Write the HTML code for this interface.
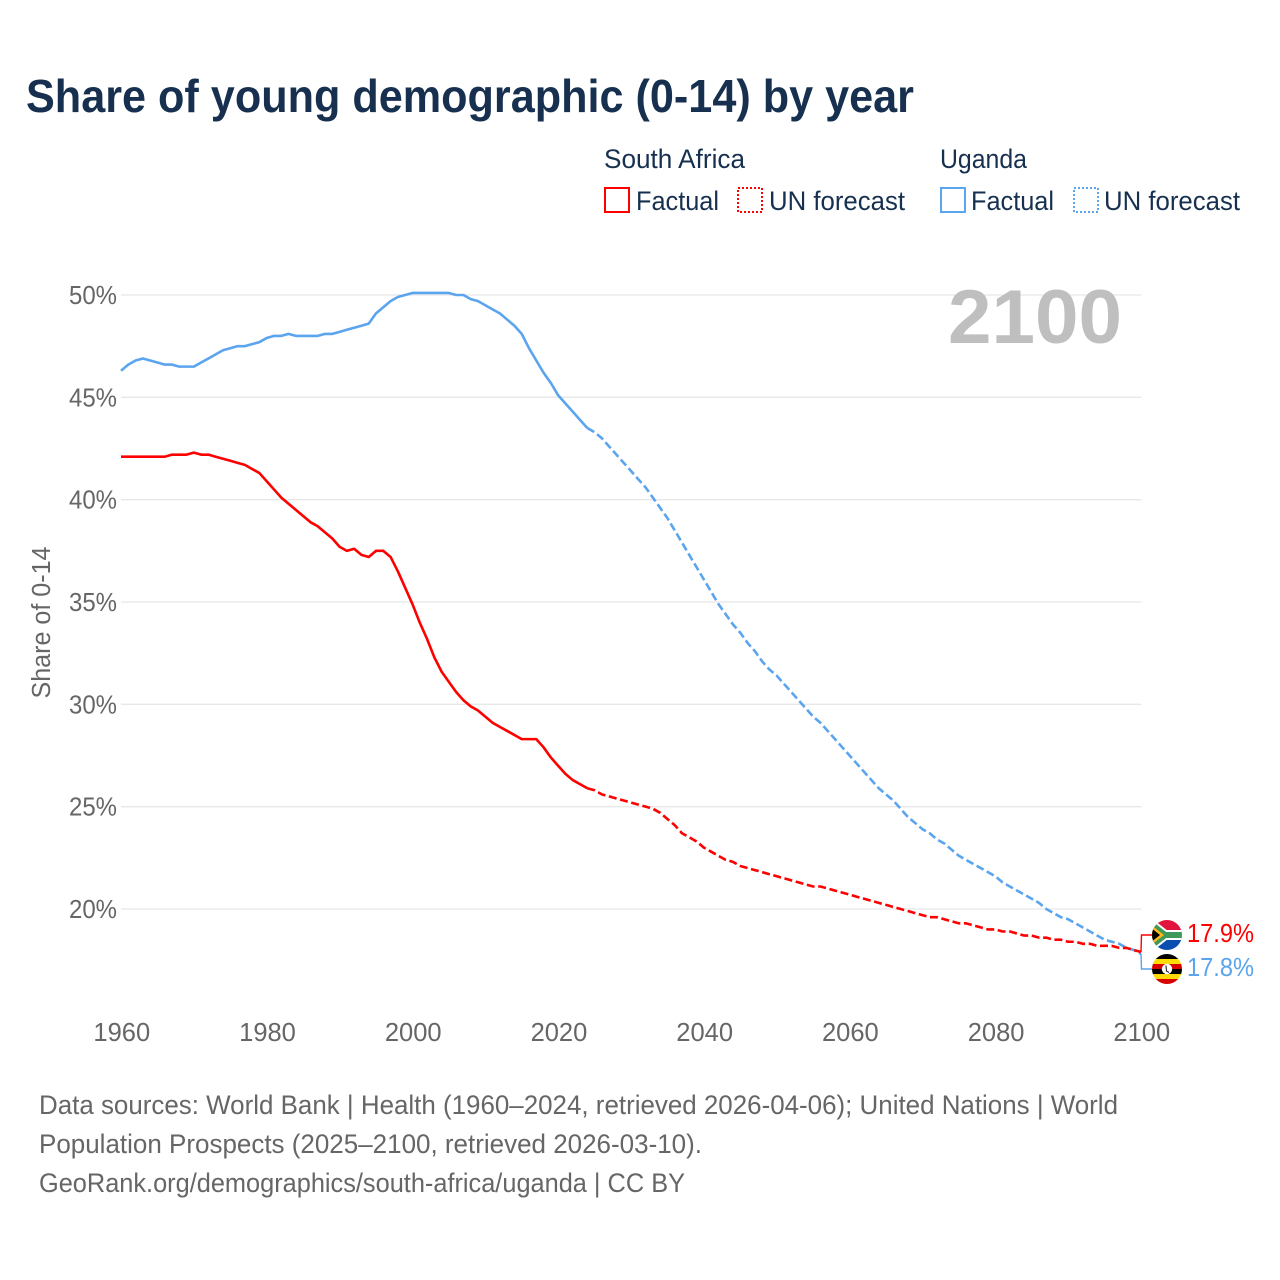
<!DOCTYPE html>
<html lang="en">
<head>
<meta charset="utf-8">
<title>Share of young demographic (0-14) by year</title>
<style>
  html, body { margin: 0; padding: 0; background: #fff; }
  svg { display: block; font-family: "Liberation Sans", sans-serif; }
</style>
</head>
<body>
<svg id="chart" xmlns="http://www.w3.org/2000/svg" width="1280" height="1280" viewBox="0 0 1280 1280">
  <defs>
    <clipPath id="clip-sa"><circle cx="1167" cy="935" r="15"/></clipPath>
    <clipPath id="clip-ug"><circle cx="1167" cy="969" r="15"/></clipPath>
  </defs>
  <rect x="0" y="0" width="1280" height="1280" fill="#fff"/>

  <text x="26" y="112" font-size="46" font-weight="700" fill="#17304f" textLength="888" lengthAdjust="spacingAndGlyphs">Share of young demographic (0-14) by year</text>

  <g font-size="27" fill="#17304f">
    <text x="604" y="168" textLength="141" lengthAdjust="spacingAndGlyphs">South Africa</text>
    <rect x="605" y="188" width="24" height="24" fill="none" stroke="#ff0000" stroke-width="2"/>
    <text x="636" y="210" textLength="83" lengthAdjust="spacingAndGlyphs">Factual</text>
    <rect x="738" y="188" width="24" height="24" fill="none" stroke="#ff0000" stroke-width="2" stroke-dasharray="2 2"/>
    <text x="769" y="210" textLength="136" lengthAdjust="spacingAndGlyphs">UN forecast</text>

    <text x="940" y="168" textLength="87" lengthAdjust="spacingAndGlyphs">Uganda</text>
    <rect x="941" y="188" width="24" height="24" fill="none" stroke="#5ba4ee" stroke-width="2"/>
    <text x="971" y="210" textLength="83" lengthAdjust="spacingAndGlyphs">Factual</text>
    <rect x="1074" y="188" width="24" height="24" fill="none" stroke="#5ba4ee" stroke-width="2" stroke-dasharray="2 2"/>
    <text x="1104" y="210" textLength="136" lengthAdjust="spacingAndGlyphs">UN forecast</text>
  </g>

  <g id="grid"></g>
  <g id="y-ticks"></g>
  <g id="x-ticks"></g>

  <text x="948" y="343" font-size="76" font-weight="700" fill="#bfbfbf" textLength="174" lengthAdjust="spacingAndGlyphs">2100</text>

  <text transform="translate(50,622.5) rotate(-90)" text-anchor="middle" font-size="25.5" fill="#666" textLength="152" lengthAdjust="spacingAndGlyphs">Share of 0-14</text>

  <g id="series"></g>

  <path id="connector-uganda" fill="none" stroke="#5ba4ee" stroke-width="1.4"/>
  <path id="connector-sa" fill="none" stroke="#ff0000" stroke-width="1.4"/>

  <g clip-path="url(#clip-sa)">
    <rect x="1150" y="918" width="34" height="17" fill="#e0143c"/>
    <rect x="1150" y="935" width="34" height="17" fill="#0a4fb0"/>
    <path d="M1146,920 L1165,935 L1186,935 M1146,950 L1165,935" fill="none" stroke="#fff" stroke-width="10"/>
    <path d="M1146,920 L1165,935 L1186,935 M1146,950 L1165,935" fill="none" stroke="#3f9a5a" stroke-width="6"/>
    <polygon points="1150,924 1164,935 1150,946" fill="#ffb81c"/>
    <polygon points="1150,927 1160,935 1150,943" fill="#000"/>
  </g>

  <g clip-path="url(#clip-ug)">
    <rect x="1150" y="954" width="34" height="5" fill="#000"/>
    <rect x="1150" y="959" width="34" height="5" fill="#fcdc04"/>
    <rect x="1150" y="964" width="34" height="5" fill="#d90000"/>
    <rect x="1150" y="969" width="34" height="5" fill="#000"/>
    <rect x="1150" y="974" width="34" height="5" fill="#fcdc04"/>
    <rect x="1150" y="979" width="34" height="5" fill="#d90000"/>
    <circle cx="1167" cy="969" r="5.2" fill="#fff"/>
    <path d="M1166,965.5 L1166.5,971 L1169,972.5" fill="none" stroke="#333" stroke-width="1.2"/>
  </g>

  <text id="end-label-sa" x="1187" y="942" font-size="26" fill="#ff0000" textLength="67" lengthAdjust="spacingAndGlyphs"></text>
  <text id="end-label-ug" x="1187" y="976" font-size="26" fill="#5ba4ee" textLength="67" lengthAdjust="spacingAndGlyphs"></text>

  <g font-size="26.5" fill="#666">
    <text x="39" y="1114" textLength="1079" lengthAdjust="spacingAndGlyphs">Data sources: World Bank | Health (1960–2024, retrieved 2026-04-06); United Nations | World</text>
    <text x="39" y="1153" textLength="663" lengthAdjust="spacingAndGlyphs">Population Prospects (2025–2100, retrieved 2026-03-10).</text>
    <text x="39" y="1192" textLength="646" lengthAdjust="spacingAndGlyphs">GeoRank.org/demographics/south-africa/uganda | CC BY</text>
  </g>
</svg>

<script>
const xTickYears = [1960, 1980, 2000, 2020, 2040, 2060, 2080, 2100];
const yTickValues = [20, 25, 30, 35, 40, 45, 50];
const factualStartYear = 1960;
const forecastStartYear = 2024;

const southAfricaFactual = [
  42.1, 42.1, 42.1, 42.1, 42.1, 42.1, 42.1, 42.2, 42.2, 42.2,
  42.3, 42.2, 42.2, 42.1, 42.0, 41.9, 41.8, 41.7, 41.5, 41.3,
  40.9, 40.5, 40.1, 39.8, 39.5, 39.2, 38.9, 38.7, 38.4, 38.1,
  37.7, 37.5, 37.6, 37.3, 37.2, 37.5, 37.5, 37.2, 36.5, 35.7,
  34.9, 34.0, 33.2, 32.3, 31.6, 31.1, 30.6, 30.2, 29.9, 29.7,
  29.4, 29.1, 28.9, 28.7, 28.5, 28.3, 28.3, 28.3, 27.9, 27.4,
  27.0, 26.6, 26.3, 26.1, 25.9
];
const southAfricaForecast = [
  25.9, 25.8, 25.6, 25.5, 25.4, 25.3, 25.2, 25.1, 25.0, 24.9,
  24.7, 24.4, 24.1, 23.7, 23.5, 23.3, 23.0, 22.8, 22.6, 22.4,
  22.3, 22.1, 22.0, 21.9, 21.8, 21.7, 21.6, 21.5, 21.4, 21.3,
  21.2, 21.1, 21.1, 21.0, 20.9, 20.8, 20.7, 20.6, 20.5, 20.4,
  20.3, 20.2, 20.1, 20.0, 19.9, 19.8, 19.7, 19.6, 19.6, 19.5,
  19.4, 19.3, 19.3, 19.2, 19.1, 19.0, 19.0, 18.9, 18.9, 18.8,
  18.7, 18.7, 18.6, 18.6, 18.5, 18.5, 18.4, 18.4, 18.3, 18.3,
  18.2, 18.2, 18.2, 18.1, 18.1, 18.0, 17.9
];
const ugandaFactual = [
  46.3, 46.6, 46.8, 46.9, 46.8, 46.7, 46.6, 46.6, 46.5, 46.5,
  46.5, 46.7, 46.9, 47.1, 47.3, 47.4, 47.5, 47.5, 47.6, 47.7,
  47.9, 48.0, 48.0, 48.1, 48.0, 48.0, 48.0, 48.0, 48.1, 48.1,
  48.2, 48.3, 48.4, 48.5, 48.6, 49.1, 49.4, 49.7, 49.9, 50.0,
  50.1, 50.1, 50.1, 50.1, 50.1, 50.1, 50.0, 50.0, 49.8, 49.7,
  49.5, 49.3, 49.1, 48.8, 48.5, 48.1, 47.4, 46.8, 46.2, 45.7,
  45.1, 44.7, 44.3, 43.9, 43.5
];
const ugandaForecast = [
  43.5, 43.3, 43.0, 42.6, 42.2, 41.8, 41.4, 41.0, 40.6, 40.1,
  39.6, 39.1, 38.5, 37.9, 37.3, 36.7, 36.1, 35.5, 34.9, 34.4,
  33.9, 33.5, 33.0, 32.6, 32.1, 31.7, 31.4, 31.0, 30.6, 30.2,
  29.8, 29.4, 29.1, 28.7, 28.3, 27.9, 27.5, 27.1, 26.7, 26.3,
  25.9, 25.6, 25.3, 24.9, 24.5, 24.2, 23.9, 23.7, 23.4, 23.2,
  22.9, 22.6, 22.4, 22.2, 22.0, 21.8, 21.6, 21.3, 21.1, 20.9,
  20.7, 20.5, 20.3, 20.0, 19.8, 19.6, 19.5, 19.3, 19.1, 18.9,
  18.7, 18.5, 18.4, 18.3, 18.1, 18.0, 17.8
];

const SVG_NS = 'http://www.w3.org/2000/svg';

function xScale(year) {
  return 121 + (year - 1960) * (1141 - 121) / (2100 - 1960);
}
function yScale(value) {
  return 909 - (value - 20) * (909 - 295) / (50 - 20);
}
function linePath(values, startYear) {
  return values.map(function (v, i) {
    return (i === 0 ? 'M' : 'L') + xScale(startYear + i).toFixed(2) + ',' + yScale(v).toFixed(2);
  }).join(' ');
}

const gridGroup = document.getElementById('grid');
const yTickGroup = document.getElementById('y-ticks');
yTickValues.forEach(function (v) {
  const gl = document.createElementNS(SVG_NS, 'line');
  
  
  gl.setAttribute('x1', xScale(1960));
  gl.setAttribute('x2', xScale(2100) + 0.5);
  gl.setAttribute('y1', yScale(v));
  gl.setAttribute('y2', yScale(v));
  gl.setAttribute('stroke', '#e8e8e8');
  gl.setAttribute('stroke-width', '1.3');
  gridGroup.appendChild(gl);

  const t = document.createElementNS(SVG_NS, 'text');
  
  
  t.setAttribute('x', 117);
  t.setAttribute('y', yScale(v) + 9);
  t.setAttribute('text-anchor', 'end');
  t.setAttribute('font-size', '25.5');
  t.setAttribute('fill', '#666');
  t.setAttribute('textLength', '48');
  t.setAttribute('lengthAdjust', 'spacingAndGlyphs');
  t.textContent = v + '%';
  yTickGroup.appendChild(t);
});

const xTickGroup = document.getElementById('x-ticks');
xTickYears.forEach(function (year) {
  const t = document.createElementNS(SVG_NS, 'text');
  
  
  t.setAttribute('x', xScale(year) + 0.8);
  t.setAttribute('y', 1041);
  t.setAttribute('text-anchor', 'middle');
  t.setAttribute('font-size', '25.5');
  t.setAttribute('fill', '#666');
  t.textContent = year;
  xTickGroup.appendChild(t);
});

const seriesGroup = document.getElementById('series');
function addSeries(name, values, startYear, color, dash) {
  const p = document.createElementNS(SVG_NS, 'path');
  
  
  p.setAttribute('d', linePath(values, startYear));
  p.setAttribute('fill', 'none');
  p.setAttribute('stroke', color);
  p.setAttribute('stroke-width', '2.6');
  p.setAttribute('stroke-linejoin', 'round');
  if (dash) p.setAttribute('stroke-dasharray', dash);
  seriesGroup.appendChild(p);
}
addSeries('line-uganda-factual', ugandaFactual, factualStartYear, '#5ba4ee', null);
addSeries('line-uganda-forecast', ugandaForecast, forecastStartYear, '#5ba4ee', '8 3.6');
addSeries('line-south-africa-factual', southAfricaFactual, factualStartYear, '#ff0000', null);
addSeries('line-south-africa-forecast', southAfricaForecast, forecastStartYear, '#ff0000', '8 3.6');

const saLast = southAfricaForecast[southAfricaForecast.length - 1];
const ugLast = ugandaForecast[ugandaForecast.length - 1];
document.getElementById('connector-sa').setAttribute('d', 'M' + xScale(2100) + ',' + yScale(saLast) + ' L1141.5,935 L1152,935');
document.getElementById('connector-uganda').setAttribute('d', 'M' + xScale(2100) + ',' + yScale(ugLast) + ' L1141.5,969 L1152,969');
document.getElementById('end-label-sa').textContent = saLast.toFixed(1) + '%';
document.getElementById('end-label-ug').textContent = ugLast.toFixed(1) + '%';
</script>
</body>
</html>
